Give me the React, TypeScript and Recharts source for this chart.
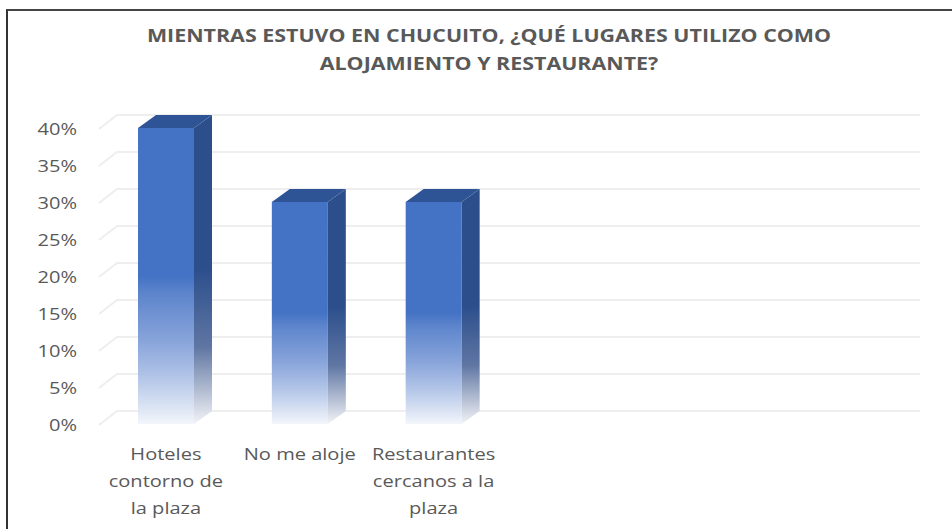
import React from "react";
import { BarChart, Bar, XAxis, YAxis, CartesianGrid } from "recharts";

const categories = [
  "Hoteles contorno de la plaza",
  "No me aloje",
  "Restaurantes cercanos a la plaza",
  "",
  "",
  "",
];
const shares = [0.4, 0.3, 0.3, null, null, null];
const yTicks = [0, 0.05, 0.1, 0.15, 0.2, 0.25, 0.3, 0.35, 0.4];
const titleLines = [
  "MIENTRAS ESTUVO EN CHUCUITO, ¿QUÉ LUGARES UTILIZO COMO",
  "ALOJAMIENTO Y RESTAURANTE?",
];

const data = categories.map((name, i) => ({ name, value: shares[i] }));

const FONT = "'Open Sans', Lato, sans-serif";
const TEXT = "#595959";
// the original screenshot is stretched sideways, so text gets a bit wider
const SX = 1.18;
const TITLE_SX = 1.26;
// depth of the 3d effect
const DX = 18;
const DY = 13;

function wrap(label: string, max = 13) {
  const lines: string[] = [];
  let cur = "";
  label.split(" ").forEach((w) => {
    if (!cur) cur = w;
    else if ((cur + " " + w).length <= max) cur += " " + w;
    else {
      lines.push(cur);
      cur = w;
    }
  });
  if (cur) lines.push(cur);
  return lines;
}

const CategoryTick = (props: any) => {
  const { x, y, payload } = props;
  const lines = wrap(String(payload.value ?? ""));
  return (
    <g transform={`translate(${x},${y}) scale(${SX},1)`}>
      <text x={0} y={0} textAnchor="middle" fill={TEXT} fontSize={17} fontFamily={FONT}>
        {lines.map((l, i) => (
          <tspan key={i} x={0} dy={i === 0 ? 28 : 27}>
            {l}
          </tspan>
        ))}
      </text>
    </g>
  );
};

const PctTick = (props: any) => {
  const { x, y, payload } = props;
  return (
    <g transform={`translate(${x},${y}) scale(${SX},1)`}>
      <text x={0} y={0} dy={7} textAnchor="end" fill={TEXT} fontSize={17} fontFamily={FONT}>
        {`${Math.round(payload.value * 100)}%`}
      </text>
    </g>
  );
};

const Bar3D = (props: any) => {
  const { x, y, width, height } = props;
  if (height == null || !width || height <= 0) return null;
  const r = x + width;
  const b = y + height;
  return (
    <g>
      <rect x={x} y={y} width={width} height={height} fill="url(#frontFade)" />
      <polygon
        points={`${r},${y} ${r + DX},${y - DY} ${r + DX},${b - DY} ${r},${b}`}
        fill="url(#sideFade)"
      />
      <polygon
        points={`${x},${y} ${x + DX},${y - DY} ${r + DX},${y - DY} ${r},${y}`}
        fill="#2F5496"
      />
    </g>
  );
};

const gridLine = (p: any) => {
  const { x1, y1, x2, key } = p;
  return (
    <path
      key={key}
      d={`M${x1},${y1 + 1} L${x1 + DX},${y1 - DY} L${x2 + DX},${y1 - DY}`}
      stroke="#EEEEEE"
      strokeWidth={2}
      fill="none"
    />
  );
};

export default function App() {
  return (
    <div
      style={{
        position: "absolute",
        left: 0,
        top: 0,
        width: 952,
        height: 529,
        overflow: "hidden",
        background: "#fff",
      }}
    >
      <div
        style={{
          position: "absolute",
          left: 6,
          top: 9,
          width: 960,
          height: 540,
          borderLeft: "2px solid #333",
          borderTop: "2px solid #444",
        }}
      />
      <svg width={952} height={90} style={{ position: "absolute", left: 0, top: 0 }}>
        {titleLines.map((t, i) => (
          <g key={t} transform={`translate(489,${42 + i * 27.5}) scale(${TITLE_SX},1)`}>
            <text
              x={0}
              y={0}
              textAnchor="middle"
              fill={TEXT}
              fontSize={17}
              fontWeight={700}
              fontFamily={FONT}
            >
              {t}
            </text>
          </g>
        ))}
      </svg>
      <BarChart
        width={952}
        height={529}
        data={data}
        margin={{ top: 128, right: 50, bottom: 15, left: 0 }}
        barSize={56}
        style={{ position: "absolute", left: 0, top: 0 }}
      >
        <defs>
          <linearGradient id="frontFade" x1="0" y1="0" x2="0" y2="1">
            <stop offset="0" stopColor="#4472C4" />
            <stop offset="0.5" stopColor="#4472C4" />
            <stop offset="0.56" stopColor="#5D85CC" />
            <stop offset="0.72" stopColor="#88A4DA" />
            <stop offset="0.86" stopColor="#B9CAEA" />
            <stop offset="1" stopColor="#F3F6FB" />
          </linearGradient>
          <linearGradient id="sideFade" x1="0" y1="0" x2="0" y2="1">
            <stop offset="0" stopColor="#2C4F8C" />
            <stop offset="0.5" stopColor="#2C4F8C" />
            <stop offset="0.75" stopColor="#5F76A3" />
            <stop offset="1" stopColor="#F2F3F6" />
          </linearGradient>
        </defs>
        <CartesianGrid vertical={false} horizontal={gridLine} />
        <XAxis
          dataKey="name"
          axisLine={false}
          tickLine={false}
          interval={0}
          height={90}
          tick={<CategoryTick />}
        />
        <YAxis
          domain={[0, 0.4]}
          ticks={yTicks}
          width={99}
          axisLine={false}
          tickLine={false}
          tickSize={0}
          tickMargin={22}
          tick={<PctTick />}
        />
        <Bar dataKey="value" shape={<Bar3D />} isAnimationActive={false} />
      </BarChart>
    </div>
  );
}
